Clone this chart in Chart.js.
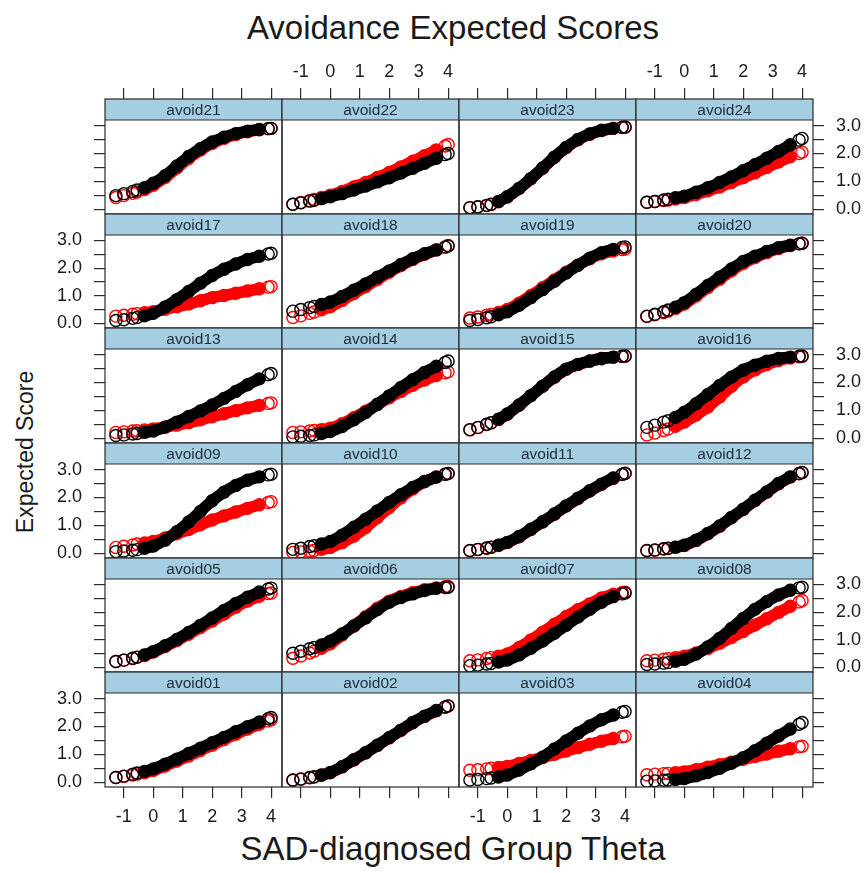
<!DOCTYPE html>
<html>
<head>
<meta charset="utf-8">
<title>Avoidance Expected Scores</title>
<script src="https://cdn.jsdelivr.net/npm/chart.js@4"></script>
<style>
  body { margin: 0; background: #fff; }
  #page { position: relative; width: 868px; height: 873px; overflow: hidden;
          font-family: "Liberation Sans", Arial, Helvetica, sans-serif; color: #1a1a1a; }
  .title { position: absolute; white-space: nowrap; transform: translate(-50%, -50%); }
  canvas.panel { position: absolute; }
</style>
</head>
<body>
<div id="page">
  <div class="title" style="left:453px; top:28px; font-size:33px;">Avoidance Expected Scores</div>
  <div class="title" style="left:453px; top:849px; font-size:33px;">SAD-diagnosed Group Theta</div>
  <div class="title" style="left:25px; top:452px; font-size:23px; transform: translate(-50%, -50%) rotate(-90deg);">Expected Score</div>
</div>
<script>
const theta = [-1.27, -1.0, -0.7, -0.55, -0.3, 0, 0.4, 0.8, 1.2, 1.6, 2.0, 2.4, 2.8, 3.2, 3.6, 3.9, 4.0];
const xTicks = [-1, 0, 1, 2, 3, 4];
const yTicks = [0, 0.5, 1, 1.5, 2, 2.5, 3];

// panel order, top-left to bottom-right
const panelItems = [
  'avoid21', 'avoid22', 'avoid23', 'avoid24',
  'avoid17', 'avoid18', 'avoid19', 'avoid20',
  'avoid13', 'avoid14', 'avoid15', 'avoid16',
  'avoid09', 'avoid10', 'avoid11', 'avoid12',
  'avoid05', 'avoid06', 'avoid07', 'avoid08',
  'avoid01', 'avoid02', 'avoid03', 'avoid04'
];

// red group
const red01 = [.17, .21, .26, .29, .34, .42, .58, .76, .94, 1.14, 1.33, 1.53, 1.72, 1.91, 2.08, 2.2, 2.24];
const red02 = [.07, .11, .16, .19, .25, .34, .55, .8, 1.05, 1.32, 1.59, 1.86, 2.13, 2.36, 2.56, 2.69, 2.73];
const red03 = [.43, .45, .48, .5, .53, .57, .67, .78, .89, 1.0, 1.12, 1.24, 1.36, 1.47, 1.57, 1.63, 1.65];
const red04 = [.27, .29, .31, .32, .34, .37, .45, .54, .63, .72, .82, .92, 1.01, 1.11, 1.2, 1.27, 1.29];
const red05 = [.21, .26, .32, .36, .43, .55, .75, .97, 1.2, 1.44, 1.68, 1.93, 2.18, 2.4, 2.57, 2.67, 2.69];
const red06 = [.33, .41, .52, .58, .69, .85, 1.17, 1.5, 1.83, 2.14, 2.4, 2.57, 2.7, 2.81, 2.88, 2.92, 2.93];
const red07 = [.24, .27, .32, .35, .4, .48, .72, .99, 1.27, 1.56, 1.84, 2.09, 2.3, 2.51, 2.65, 2.71, 2.72];
const red08 = [.24, .26, .29, .31, .35, .4, .52, .68, .87, 1.08, 1.3, 1.53, 1.76, 1.99, 2.21, 2.37, 2.42];
const red09 = [.21, .25, .3, .33, .37, .42, .55, .7, .85, 1.02, 1.19, 1.34, 1.48, 1.61, 1.74, 1.82, 1.85];
const red10 = [.03, .05, .08, .1, .14, .21, .38, .62, .92, 1.28, 1.64, 1.99, 2.3, 2.56, 2.74, 2.83, 2.86];
const red11 = [.09, .13, .18, .21, .28, .38, .59, .85, 1.12, 1.4, 1.69, 1.96, 2.23, 2.47, 2.69, 2.82, 2.86];
const red12 = [.09, .11, .15, .17, .21, .28, .46, .7, .97, 1.27, 1.57, 1.89, 2.19, 2.49, 2.73, 2.85, 2.89];
const red13 = [.21, .23, .26, .27, .3, .33, .4, .47, .56, .66, .77, .88, .99, 1.09, 1.18, 1.25, 1.27];
const red14 = [.21, .23, .26, .28, .31, .36, .52, .74, .97, 1.21, 1.45, 1.68, 1.9, 2.09, 2.25, 2.35, 2.38];
const red15 = [.3, .38, .49, .55, .67, .86, 1.18, 1.52, 1.86, 2.19, 2.47, 2.64, 2.76, 2.85, 2.9, 2.93, 2.94];
const red16 = [.12, .19, .28, .33, .43, .58, .83, 1.12, 1.48, 1.86, 2.2, 2.45, 2.64, 2.79, 2.88, 2.92, 2.93];
const red17 = [.26, .29, .33, .35, .38, .42, .51, .6, .7, .82, .93, 1.01, 1.09, 1.17, 1.25, 1.31, 1.33];
const red18 = [.21, .27, .36, .41, .49, .6, .83, 1.08, 1.33, 1.59, 1.85, 2.09, 2.31, 2.5, 2.66, 2.77, 2.82];
const red19 = [.19, .23, .29, .32, .39, .5, .73, 1.01, 1.29, 1.57, 1.85, 2.11, 2.34, 2.52, 2.62, 2.67, 2.69];
const red20 = [.25, .31, .39, .44, .54, .7, .99, 1.3, 1.6, 1.9, 2.17, 2.38, 2.56, 2.71, 2.82, 2.88, 2.9];
const red21 = [.42, .49, .57, .62, .71, .86, 1.14, 1.48, 1.82, 2.12, 2.36, 2.54, 2.68, 2.78, 2.85, 2.89, 2.9];
const red22 = [.18, .24, .31, .35, .42, .5, .64, .8, .96, 1.14, 1.32, 1.52, 1.72, 1.92, 2.13, 2.27, 2.32];
const red23 = [.05, .08, .13, .17, .27, .44, .74, 1.09, 1.47, 1.86, 2.21, 2.49, 2.69, 2.82, 2.9, 2.93, 2.94];
const red24 = [.25, .28, .31, .33, .37, .42, .53, .66, .8, .96, 1.13, 1.31, 1.5, 1.69, 1.88, 2.0, 2.05];

// black group
const black01 = [.17, .22, .29, .33, .39, .48, .65, .83, 1.03, 1.22, 1.42, 1.61, 1.81, 1.99, 2.16, 2.28, 2.32];
const black02 = [.08, .12, .17, .2, .26, .35, .56, .81, 1.06, 1.33, 1.6, 1.87, 2.14, 2.37, 2.57, 2.7, 2.74];
const black03 = [.08, .1, .13, .15, .19, .26, .44, .66, .9, 1.19, 1.48, 1.76, 2.02, 2.24, 2.41, 2.51, 2.54];
const black04 = [.04, .05, .07, .08, .1, .13, .23, .35, .5, .68, .88, 1.13, 1.4, 1.66, 1.91, 2.08, 2.14];
const black05 = [.21, .26, .33, .37, .45, .57, .78, 1.01, 1.26, 1.52, 1.79, 2.06, 2.31, 2.54, 2.73, 2.84, 2.87];
const black06 = [.51, .58, .67, .72, .81, .95, 1.21, 1.5, 1.79, 2.09, 2.36, 2.53, 2.66, 2.78, 2.86, 2.89, 2.9];
const black07 = [.06, .08, .12, .14, .19, .26, .45, .69, .95, 1.23, 1.52, 1.82, 2.1, 2.36, 2.56, 2.66, 2.69];
const black08 = [.1, .12, .15, .17, .22, .29, .48, .74, 1.05, 1.41, 1.77, 2.1, 2.38, 2.62, 2.79, 2.88, 2.9];
const black09 = [.06, .08, .11, .13, .18, .26, .47, .77, 1.12, 1.5, 1.88, 2.19, 2.43, 2.62, 2.74, 2.81, 2.83];
const black10 = [.14, .18, .24, .27, .33, .42, .65, .93, 1.22, 1.52, 1.82, 2.1, 2.36, 2.57, 2.73, 2.83, 2.86];
const black11 = [.1, .14, .19, .22, .29, .39, .6, .86, 1.13, 1.41, 1.7, 1.97, 2.24, 2.48, 2.7, 2.83, 2.87];
const black12 = [.1, .12, .16, .18, .22, .29, .47, .71, .98, 1.28, 1.58, 1.9, 2.2, 2.5, 2.74, 2.86, 2.9];
const black13 = [.1, .12, .15, .17, .21, .26, .4, .58, .78, .98, 1.19, 1.43, 1.68, 1.92, 2.13, 2.28, 2.32];
const black14 = [.05, .07, .1, .12, .17, .24, .42, .66, .92, 1.22, 1.52, 1.82, 2.1, 2.36, 2.58, 2.72, 2.77];
const black15 = [.31, .39, .5, .56, .68, .87, 1.19, 1.53, 1.87, 2.2, 2.48, 2.65, 2.77, 2.86, 2.91, 2.94, 2.95];
const black16 = [.39, .47, .58, .63, .75, .93, 1.24, 1.57, 1.89, 2.19, 2.44, 2.62, 2.76, 2.86, 2.91, 2.94, 2.95];
const black17 = [.1, .13, .18, .21, .27, .36, .59, .86, 1.15, 1.45, 1.73, 1.96, 2.15, 2.31, 2.43, 2.51, 2.54];
const black18 = [.44, .5, .57, .61, .68, .77, .97, 1.2, 1.43, 1.67, 1.9, 2.13, 2.34, 2.52, 2.66, 2.76, 2.8];
const black19 = [.1, .14, .2, .24, .31, .42, .65, .93, 1.22, 1.52, 1.82, 2.1, 2.36, 2.56, 2.68, 2.75, 2.77];
const black20 = [.26, .33, .42, .48, .58, .75, 1.05, 1.37, 1.67, 1.97, 2.24, 2.43, 2.6, 2.74, 2.83, 2.88, 2.9];
const black21 = [.49, .56, .64, .69, .77, .93, 1.2, 1.55, 1.89, 2.17, 2.41, 2.58, 2.71, 2.8, 2.86, 2.89, 2.9];
const black22 = [.18, .23, .29, .32, .38, .45, .56, .69, .83, .98, 1.13, 1.3, 1.47, 1.65, 1.83, 1.96, 2.0];
const black23 = [.06, .09, .14, .18, .28, .45, .75, 1.1, 1.48, 1.87, 2.22, 2.5, 2.7, 2.83, 2.9, 2.94, 2.95];
const black24 = [.25, .28, .33, .36, .41, .47, .61, .77, .96, 1.16, 1.38, 1.6, 1.83, 2.07, 2.31, 2.48, 2.54];

const redByItem = {
  avoid01: red01, avoid02: red02, avoid03: red03, avoid04: red04, avoid05: red05, avoid06: red06,
  avoid07: red07, avoid08: red08, avoid09: red09, avoid10: red10, avoid11: red11, avoid12: red12,
  avoid13: red13, avoid14: red14, avoid15: red15, avoid16: red16, avoid17: red17, avoid18: red18,
  avoid19: red19, avoid20: red20, avoid21: red21, avoid22: red22, avoid23: red23, avoid24: red24
};
const blackByItem = {
  avoid01: black01, avoid02: black02, avoid03: black03, avoid04: black04, avoid05: black05, avoid06: black06,
  avoid07: black07, avoid08: black08, avoid09: black09, avoid10: black10, avoid11: black11, avoid12: black12,
  avoid13: black13, avoid14: black14, avoid15: black15, avoid16: black16, avoid17: black17, avoid18: black18,
  avoid19: black19, avoid20: black20, avoid21: black21, avoid22: black22, avoid23: black23, avoid24: black24
};

// layout of the lattice
const X_MIN = -1.64, X_MAX = 4.37;
const Y_MIN = -0.17, Y_TOP = 3.2;
const COL_LEFT = [105, 282, 459, 636];
const PANEL_W = 177;
const GRID_TOP = 99, GRID_BOTTOM = 787, NROWS = 6;
const STRIP_H = 21;
const MARGIN = 80, AX_Y_W = 58, AX_X_H = 40;
const STRIP_FILL = '#a6cee3';
const FRAME = '#2a2a2a';
const FONT = '"Liberation Sans", Arial, Helvetica, sans-serif';

const stripPlugin = {
  id: 'strip',
  beforeDatasetsDraw(chart, args, opts) {
    const { ctx, chartArea: a } = chart;
    ctx.save();
    ctx.fillStyle = STRIP_FILL;
    ctx.fillRect(a.left, a.top, a.width, STRIP_H);
    ctx.fillStyle = '#1d2c3a';
    ctx.font = '15.5px ' + FONT;
    ctx.textAlign = 'center';
    ctx.textBaseline = 'middle';
    ctx.fillText(opts.label, (a.left + a.right) / 2, a.top + STRIP_H / 2 + 1);
    ctx.restore();
  },
  afterDraw(chart) {
    const { ctx, chartArea: a } = chart;
    ctx.save();
    ctx.strokeStyle = FRAME;
    ctx.lineWidth = 1.2;
    ctx.strokeRect(a.left, a.top, a.width, a.height);
    ctx.beginPath();
    ctx.moveTo(a.left, a.top + STRIP_H);
    ctx.lineTo(a.right, a.top + STRIP_H);
    ctx.stroke();
    ctx.restore();
  }
};

function points(values) {
  return values.map((v, i) => ({ x: theta[i], y: v }));
}

function circles(values, color) {
  return {
    data: points(values),
    showLine: false,
    pointStyle: 'circle',
    pointRadius: 6,
    pointBorderWidth: 1.4,
    pointBorderColor: color,
    pointBackgroundColor: 'rgba(0,0,0,0)'
  };
}

// dense middle part of the point cloud reads as a solid band
function band(values, color) {
  return {
    data: points(values).slice(4, 15),
    showLine: true,
    borderColor: color,
    borderWidth: 11.5,
    borderCapStyle: 'round',
    borderJoinStyle: 'round',
    cubicInterpolationMode: 'monotone',
    pointRadius: 0
  };
}

const page = document.getElementById('page');
const rowH = (GRID_BOTTOM - GRID_TOP) / NROWS;

panelItems.forEach((item, idx) => {
  const row = Math.floor(idx / 4);
  const col = idx % 4;
  const top = Math.round(GRID_TOP + row * rowH);
  const bottom = Math.round(GRID_TOP + (row + 1) * rowH);
  const panelH = bottom - top;
  const plotH = panelH - STRIP_H;
  const yMax = Y_MIN + (Y_TOP - Y_MIN) * panelH / plotH;

  const showLeft = col === 0;
  const showRight = col === 3;
  const showTop = row === 0;
  const showBottom = row === NROWS - 1;
  const showX = showTop || showBottom;
  const showY = showLeft || showRight;
  const xLabelled = (showTop && col % 2 === 1) || (showBottom && col % 2 === 0);
  const yLabelled = (showLeft && row % 2 === 1) || (showRight && row % 2 === 0);

  const canvas = document.createElement('canvas');
  canvas.className = 'panel';
  canvas.width = PANEL_W + 2 * MARGIN;
  canvas.height = panelH + 2 * MARGIN;
  canvas.style.left = (COL_LEFT[col] - MARGIN) + 'px';
  canvas.style.top = (top - MARGIN) + 'px';
  canvas.style.width = canvas.width + 'px';
  canvas.style.height = canvas.height + 'px';
  page.appendChild(canvas);

  const tickGrid = {
    display: true,
    drawOnChartArea: false,
    drawTicks: true,
    tickLength: 11,
    color: FRAME,
    lineWidth: 1.2
  };

  new Chart(canvas, {
    type: 'scatter',
    data: {
      datasets: [
        circles(blackByItem[item], '#000000'),
        band(blackByItem[item], '#000000'),
        circles(redByItem[item], '#ff0000'),
        band(redByItem[item], '#ff0000')
      ]
    },
    options: {
      responsive: false,
      animation: false,
      events: [],
      layout: {
        padding: {
          left: MARGIN - (showLeft ? AX_Y_W : 0),
          right: MARGIN - (showRight ? AX_Y_W : 0),
          top: MARGIN - (showTop ? AX_X_H : 0),
          bottom: MARGIN - (showBottom ? AX_X_H : 0)
        }
      },
      plugins: {
        legend: { display: false },
        tooltip: { enabled: false },
        strip: { label: item }
      },
      scales: {
        x: {
          type: 'linear',
          min: X_MIN,
          max: X_MAX,
          display: showX,
          position: showTop ? 'top' : 'bottom',
          afterBuildTicks: s => { s.ticks = xTicks.map(v => ({ value: v })); },
          afterFit: s => { s.height = showX ? AX_X_H : 0; },
          grid: tickGrid,
          border: { display: false },
          ticks: {
            autoSkip: false,
            maxRotation: 0,
            padding: showTop ? 5 : 8,
            color: '#1a1a1a',
            font: { family: FONT, size: 18 },
            callback: v => (xLabelled ? String(v) : '')
          }
        },
        y: {
          type: 'linear',
          min: Y_MIN,
          max: yMax,
          display: showY,
          position: showRight ? 'right' : 'left',
          afterBuildTicks: s => { s.ticks = yTicks.map(v => ({ value: v })); },
          afterFit: s => { s.width = showY ? AX_Y_W : 0; },
          grid: tickGrid,
          border: { display: false },
          ticks: {
            autoSkip: false,
            padding: 12,
            color: '#1a1a1a',
            font: { family: FONT, size: 18 },
            callback: v => (yLabelled && v % 1 === 0 ? v.toFixed(1) : '')
          }
        }
      }
    },
    plugins: [stripPlugin]
  });
});
</script>
</body>
</html>
